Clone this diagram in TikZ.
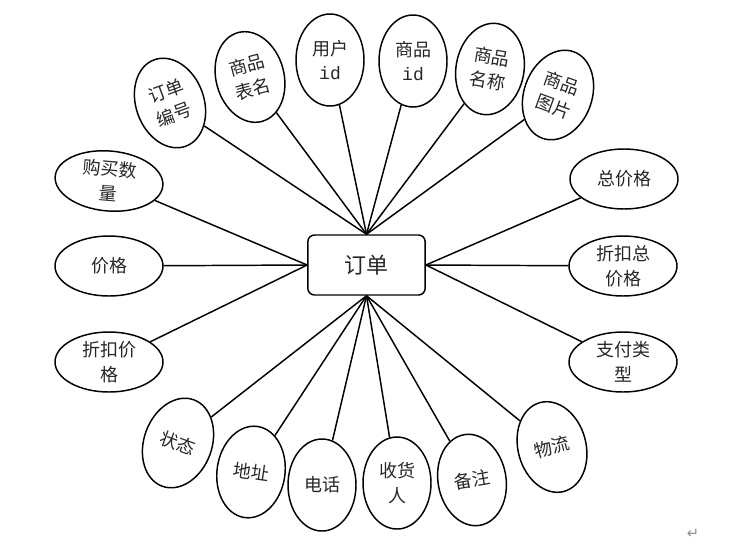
\documentclass[tikz,border=0pt]{standalone}
\usepackage{fontspec}
\usetikzlibrary{shapes.geometric}
\newfontfamily\cjk{Noto Sans CJK SC}
\newfontfamily\monof{Liberation Mono}
\newfontfamily\symf{DejaVu Sans}
\tikzset{
  attr/.style={draw, ellipse, line width=1.1pt, inner sep=0pt, align=center,
    font=\cjk\fontsize{13.5}{18.5}\selectfont, text=black!85},
  vattr/.style={attr, minimum width=51pt, minimum height=69pt},
  hattr/.style={attr, minimum width=81pt, minimum height=45pt},
  entity/.style={draw, rectangle, rounded corners=5pt, line width=1.1pt,
    minimum width=88pt, minimum height=45pt, font=\cjk\fontsize{16.5}{18}\selectfont, text=black!85},
  link/.style={line width=1.1pt}
}
\begin{document}
\begin{tikzpicture}[x=0.75pt,y=-0.75pt]
\useasboundingbox (0,0) rectangle (738,546);
\node[entity] (E) at (366.5,265) {订单};
% left
\node[hattr, rotate=-5] (a1) at (109,181) {购买数\\量};
\node[hattr] (a2) at (109,266) {价格};
\node[hattr] (a3) at (109,362) {折扣价\\格};
% top
\node[vattr, rotate=20] (t1) at (170,103) {订单\\编号};
\node[vattr, rotate=15] (t2) at (250,77) {商品\\表名};
\node[vattr] (t3) at (330,60) {用户\\{\monof id}};
\node[vattr] (t4) at (413,61) {商品\\{\monof id}};
\node[vattr, rotate=-10] (t5) at (490,69) {商品\\名称};
\node[vattr, rotate=-20] (t6) at (558,95) {商品\\图片};
% right
\node[hattr] (r1) at (624,179) {总价格};
\node[hattr] (r2) at (623,266) {折扣总\\价格};
\node[hattr] (r3) at (623,362) {支付类\\型};
% bottom
\node[vattr, rotate=-20] (b1) at (178,443) {状态};
\node[vattr, rotate=-8] (b2) at (251,472) {地址};
\node[vattr] (b3) at (322,485) {电话};
\node[vattr] (b4) at (397,483) {收货\\人};
\node[vattr, rotate=10] (b5) at (472,480) {备注};
\node[vattr, rotate=15] (b6) at (552,447) {物流};
% connectors
\foreach \n in {a1,a2,a3} \draw[link] (E.west) -- (\n);
\foreach \n in {t1,t2,t3,t4,t5,t6} \draw[link] (E.north) -- (\n);
\foreach \n in {r1,r2,r3} \draw[link] (E.east) -- (\n);
\foreach \n in {b1,b2,b3,b4,b5,b6} \draw[link] (E.south) -- (\n);
\node[font=\symf\fontsize{11}{12}\selectfont, text=black!45] (pm) at (693,534) {↵};
\end{tikzpicture}
\end{document}
